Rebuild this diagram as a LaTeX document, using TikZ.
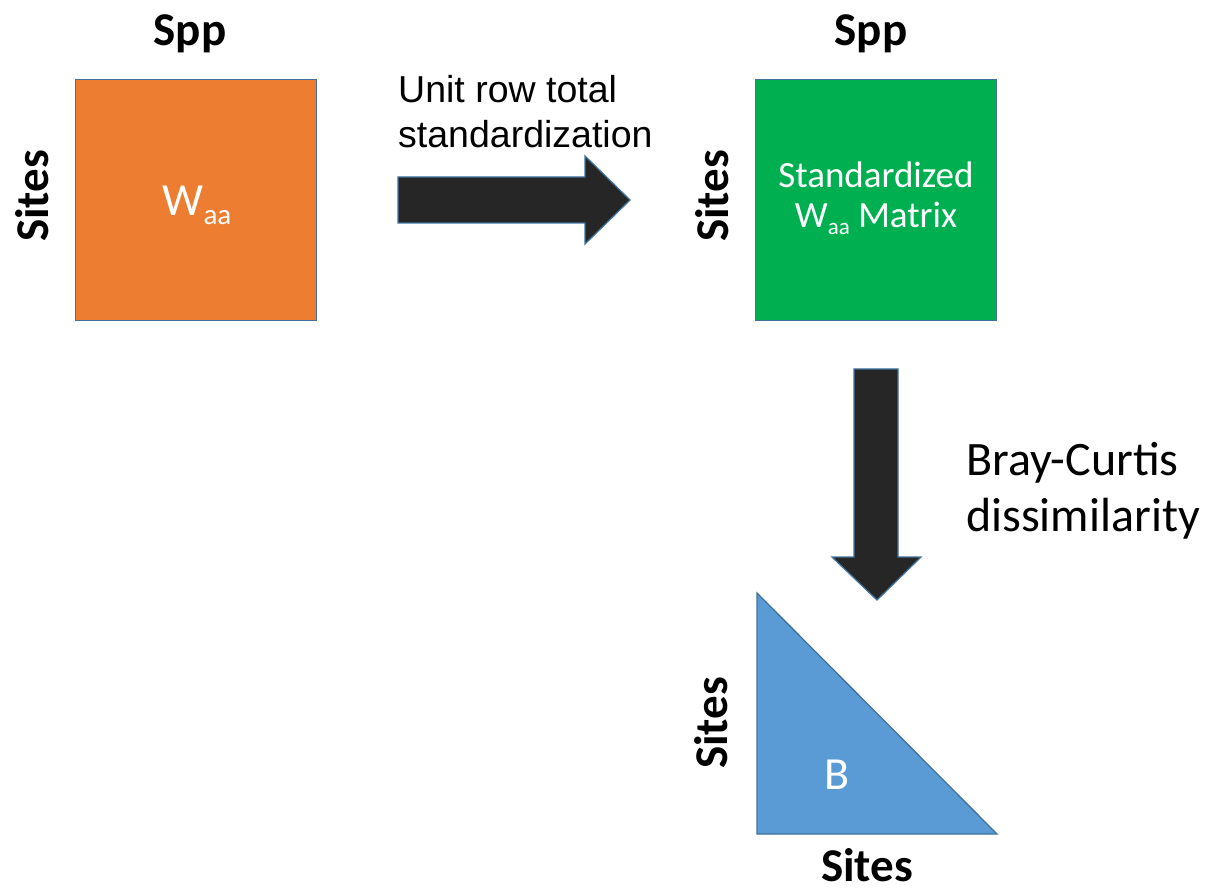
\documentclass[tikz,border=0pt]{standalone}
\usepackage{fontspec}
\setmainfont{Carlito}
\newfontfamily\arialfont{Liberation Sans}
\definecolor{waaorange}{RGB}{237,125,49}
\definecolor{stdgreen}{RGB}{0,176,80}
\definecolor{distblue}{RGB}{91,155,213}
\definecolor{edgeblue}{RGB}{65,113,156}
\definecolor{arrowdark}{RGB}{38,38,38}
\usetikzlibrary{positioning}
\newcommand{\subaa}[1]{{\fontsize{#1}{#1}\selectfont\raisebox{-0.3em}{aa}}}

\begin{document}
\begin{tikzpicture}[x=1pt, y=-1pt,
    matrixbox/.style={draw=edgeblue, line width=1.3pt, minimum size=241pt, inner sep=0pt, text=white},
    axislabel/.style={font=\fontsize{47}{50}\selectfont\bfseries, inner sep=0pt},
    blockarrow/.style={draw=edgeblue, line width=1.3pt, fill=arrowdark, line join=miter}]
    \useasboundingbox (0,0) rectangle (1205,890);

    % Raw matrix
    \node[matrixbox, fill=waaorange] (waa) at (196,200) {};
    \node[text=white, font=\fontsize{46}{48}\selectfont, anchor=base] (waatext) at (197,216) {W\subaa{29}};
    \node[axislabel, anchor=base] (waaspp) at (190,46) {Spp};
    \node[axislabel, rotate=90] (waasites) at (32,196) {Sites};

    % Standardized matrix
    \node[matrixbox, fill=stdgreen] (std) at (876,200) {};
    \node[text=white, font=\fontsize{37}{40}\selectfont, align=center, anchor=base] (stdtext) at (876,228)
        {Standardized\\W\subaa{23} Matrix};
    \node[axislabel, anchor=base] (stdspp) at (871,46) {Spp};
    \node[axislabel, rotate=90] (stdsites) at (712,196) {Sites};

    % Step 1
    \draw[blockarrow] (398,177) -- (585,177) -- (585,156) -- (630,200) -- (585,244)
        -- (585,223) -- (398,223) -- cycle;
    \node[font=\arialfont\fontsize{37.5}{45}\selectfont, align=left, anchor=base west, inner sep=0pt] (stdstep) at (398,148)
        {Unit row total\\standardization};

    % Step 2
    \draw[blockarrow] (854,369) -- (898,369) -- (898,557) -- (921,557) -- (877,600)
        -- (832,557) -- (854,557) -- cycle;
    \node[font=\fontsize{48}{56}\selectfont, align=left, anchor=base west, inner sep=0pt] (diststep) at (966,531)
        {Bray-Curtis\\dissimilarity};

    % Dissimilarity matrix (lower triangle)
    \draw[fill=distblue, draw=edgeblue, line width=1.3pt] (757,593) -- (757,834) -- (997,834) -- cycle;
    \node[text=white, font=\fontsize{46}{48}\selectfont, anchor=base] (btext) at (837,789) {B};
    \node[axislabel, rotate=90] (brows) at (711,723) {Sites};
    \node[axislabel, anchor=base] (bcols) at (867,881) {Sites};
\end{tikzpicture}
\end{document}
